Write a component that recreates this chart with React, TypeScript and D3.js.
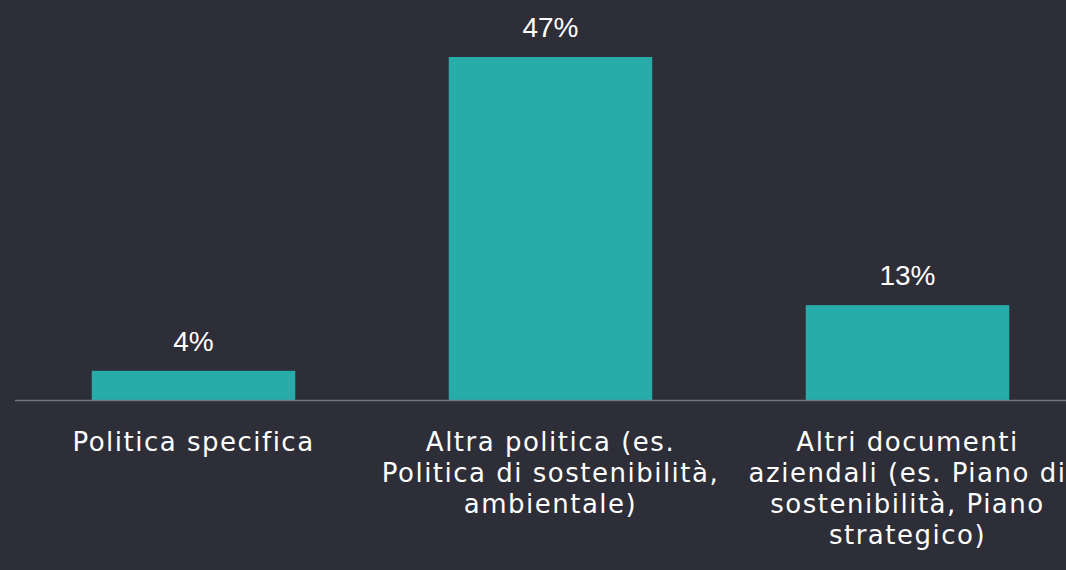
import React, { useEffect, useRef } from 'react';
import * as d3 from 'd3';

const categories = [
  'Politica specifica',
  'Altra politica (es. Politica di sostenibilità, ambientale)',
  'Altri documenti aziendali (es. Piano di sostenibilità, Piano strategico)',
];
const categoryLines = [
  ['Politica specifica'],
  ['Altra politica (es.', 'Politica di sostenibilità,', 'ambientale)'],
  ['Altri documenti', 'aziendali (es. Piano di', 'sostenibilità, Piano', 'strategico)'],
];
const values = [4, 47, 13];

const width = 1066;
const height = 570;

export default function App() {
  const ref = useRef<SVGSVGElement>(null);

  useEffect(() => {
    const svg = d3.select(ref.current);
    svg.selectAll('*').remove();

    const baseline = 400;

    const x = d3
      .scaleBand()
      .domain(categories)
      .range([15, 1086])
      .paddingInner(0.43)
      .paddingOuter(0.215);

    const y = d3.scaleLinear().domain([0, 47]).range([baseline, 57]);

    svg.append('rect').attr('width', width).attr('height', height).attr('fill', '#2e2e38');

    svg
      .selectAll('rect.bar')
      .data(values)
      .enter()
      .append('rect')
      .attr('class', 'bar')
      .attr('x', (d, i) => x(categories[i])!)
      .attr('y', d => y(d))
      .attr('width', x.bandwidth())
      .attr('height', d => baseline - y(d))
      .attr('fill', '#27aca9');

    svg
      .append('line')
      .attr('x1', 15)
      .attr('x2', width)
      .attr('y1', baseline + 0.5)
      .attr('y2', baseline + 0.5)
      .attr('stroke', '#747480')
      .attr('stroke-width', 1.5);

    svg
      .selectAll('text.value')
      .data(values)
      .enter()
      .append('text')
      .attr('class', 'value')
      .attr('x', (d, i) => x(categories[i])! + x.bandwidth() / 2)
      .attr('y', d => y(d) - 20)
      .attr('text-anchor', 'middle')
      .attr('fill', '#ffffff')
      .attr('font-family', 'Liberation Sans, Arial, sans-serif')
      .attr('font-size', 28)
      .text(d => d + '%');

    const labels = svg
      .selectAll('text.cat')
      .data(categories)
      .enter()
      .append('text')
      .attr('class', 'cat')
      .attr('x', d => x(d)! + x.bandwidth() / 2)
      .attr('y', 451)
      .attr('text-anchor', 'middle')
      .attr('fill', '#ffffff')
      .attr('font-family', 'DejaVu Sans, sans-serif')
      .attr('font-size', 26)
      .attr('letter-spacing', 1.5);

    labels
      .selectAll('tspan')
      .data((d, i) => categoryLines[i])
      .enter()
      .append('tspan')
      .attr('x', function () {
        return (this.parentNode as SVGTextElement).getAttribute('x');
      })
      .attr('dy', (d, i) => (i === 0 ? 0 : 31))
      .text(d => d);
  }, []);

  return (
    <svg
      ref={ref}
      width={width}
      height={height}
      style={{ position: 'absolute', left: 0, top: 0 }}
    />
  );
}
